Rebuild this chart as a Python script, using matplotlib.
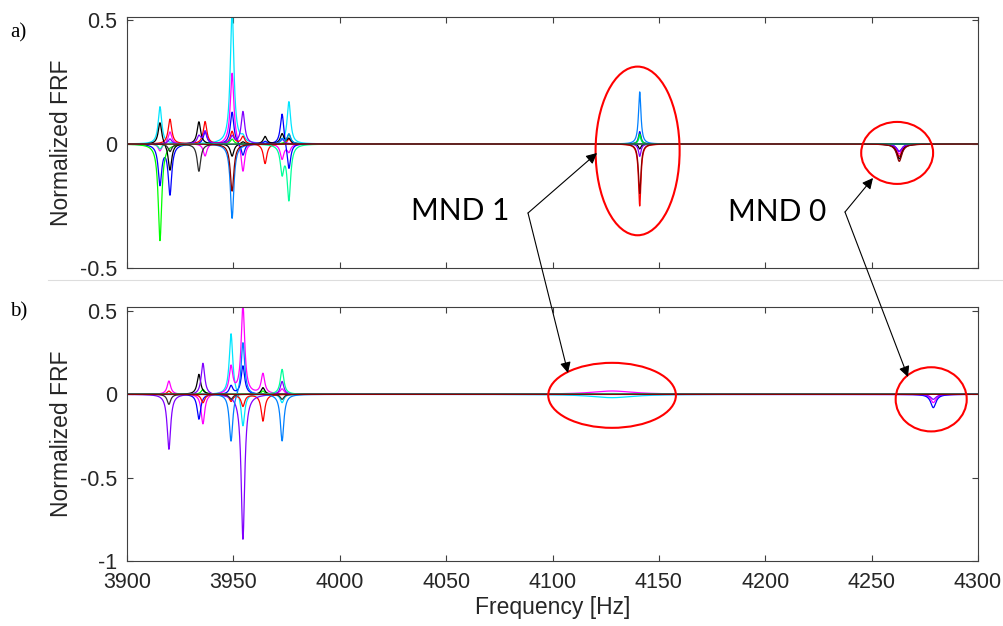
import numpy as np
import matplotlib.pyplot as plt
from matplotlib.patches import Ellipse, FancyArrowPatch

# peak frequencies [Hz] and half widths [Hz]
top_freqs = [3915.5, 3920.2, 3933.8, 3936.7, 3949.4, 3954.5, 3964.9, 3972.9, 3976.1, 4141.0, 4263.0]
top_widths = [1.0, 1.0, 1.0, 1.0, 1.0, 1.0, 1.0, 1.0, 1.0, 0.7, 1.5]
bot_freqs = [3919.7, 3933.8, 3935.7, 3948.9, 3954.5, 3963.9, 3972.9, 4128.0, 4279.0]
bot_widths = [1.0, 1.0, 1.0, 1.0, 1.0, 1.0, 1.0, 12.0, 1.5]

line_colors = ["#00e5ff", "#ff00ff", "#0000ff", "#ff0000", "#00ff00",
               "#000000", "#8000ff", "#0080ff", "#00ff99", "#303030", "#8b0000"]

# normalized peak amplitude of each line at each peak (rows follow line_colors)
top_amps = [
    [0.15, 0.00, 0.00, 0.00, 0.55, 0.02, 0.00, 0.00, 0.17, 0.03, 0.00],
    [-0.03, 0.05, 0.00, -0.05, 0.29, -0.12, 0.00, -0.06, -0.03, 0.00, -0.04],
    [-0.16, -0.20, 0.00, 0.05, 0.13, -0.05, 0.01, 0.13, -0.11, 0.05, -0.03],
    [0.00, 0.10, 0.00, 0.09, 0.05, 0.03, -0.08, 0.00, 0.02, -0.25, -0.05],
    [-0.39, 0.00, 0.00, 0.00, 0.02, 0.00, 0.00, 0.00, 0.04, 0.04, 0.00],
    [0.09, -0.11, 0.09, 0.00, -0.05, 0.01, 0.03, 0.04, 0.02, -0.02, -0.06],
    [0.00, 0.02, 0.03, 0.05, 0.03, 0.13, 0.00, 0.02, 0.00, -0.05, -0.03],
    [0.00, 0.00, 0.00, 0.00, -0.30, 0.00, 0.00, 0.02, 0.04, 0.21, 0.00],
    [-0.02, 0.00, 0.00, 0.00, 0.00, 0.00, 0.00, -0.11, -0.22, 0.00, 0.00],
    [0.00, -0.03, -0.11, 0.00, 0.00, 0.00, 0.00, 0.00, 0.00, 0.00, 0.00],
    [0.00, 0.00, 0.00, 0.00, -0.19, 0.00, 0.00, 0.00, 0.00, -0.20, -0.07],
]

bot_amps = [
    [0.00, 0.00, 0.00, 0.37, -0.20, 0.00, -0.05, -0.02, 0.00],
    [0.08, 0.00, -0.18, 0.16, 0.53, 0.12, 0.03, 0.02, -0.05],
    [0.00, -0.15, 0.00, 0.05, 0.17, 0.00, 0.00, 0.00, -0.08],
    [0.02, 0.00, -0.05, -0.04, -0.07, -0.16, 0.00, 0.00, 0.00],
    [0.00, 0.00, 0.03, 0.00, 0.00, 0.02, 0.00, 0.00, 0.00],
    [0.00, 0.12, 0.00, 0.00, 0.00, 0.04, 0.00, 0.00, 0.00],
    [-0.33, 0.00, 0.19, 0.00, -0.87, 0.00, 0.08, 0.00, -0.03],
    [0.00, 0.00, 0.00, -0.29, 0.32, 0.00, -0.28, 0.00, 0.00],
    [0.00, 0.00, 0.00, 0.00, 0.00, 0.00, 0.15, 0.005, 0.00],
    [-0.06, 0.00, 0.00, -0.03, 0.00, 0.00, -0.03, 0.00, 0.00],
    [0.00, 0.00, 0.00, 0.00, 0.00, 0.00, 0.00, 0.00, 0.00],
]

x_ticks = [3900, 3950, 4000, 4050, 4100, 4150, 4200, 4250, 4300]

freq = np.linspace(3900, 4300, 8001)


def frf_line(freqs, widths, amps):
    y = np.zeros_like(freq)
    for f0, g, a in zip(freqs, widths, amps):
        y += a / (1.0 + ((freq - f0) / g) ** 2)
    return y


W, H = 1004, 626


def fig_xy(px, py):
    return (px / W, 1 - py / H)


plt.rcParams["font.family"] = ["Liberation Sans", "DejaVu Sans"]
fig = plt.figure(figsize=(W / 100, H / 100), dpi=100)

ax1 = fig.add_axes([127 / W, 1 - 268 / H, 851 / W, 251 / H])
ax2 = fig.add_axes([127 / W, 1 - 561 / H, 851 / W, 254 / H])

for amps, c in zip(top_amps, line_colors):
    ax1.plot(freq, frf_line(top_freqs, top_widths, amps), color=c, lw=0.9)
for amps, c in zip(bot_amps, line_colors):
    ax2.plot(freq, frf_line(bot_freqs, bot_widths, amps), color=c, lw=0.9)

ax1.set_ylim(-0.5, 0.512)
ax1.set_yticks([-0.5, 0, 0.5])
ax1.set_yticklabels(["-0.5", "0", "0.5"])
ax2.set_ylim(-1, 0.524)
ax2.set_yticks([-1, -0.5, 0, 0.5])
ax2.set_yticklabels(["-1", "-0.5", "0", "0.5"])

for ax in (ax1, ax2):
    ax.set_xlim(3900, 4300)
    ax.set_xticks(x_ticks)
    ax.tick_params(direction="in", top=True, right=True, length=4,
                   width=0.8, color="#404040", labelsize=15.5, labelcolor="#262626")
    ax.tick_params(axis="y", pad=7)
    ax.tick_params(axis="x", pad=8)
    for s in ax.spines.values():
        s.set_color("#404040")
        s.set_linewidth(0.8)
    ax.set_ylabel("Normalized FRF", fontsize=16.5, color="#262626", labelpad=5)

ax1.tick_params(labelbottom=False)
ax2.set_xticklabels([str(t) for t in x_ticks])
ax2.set_xlabel("Frequency [Hz]", fontsize=16.5, color="#262626", labelpad=2)

# red ellipses around the MND peaks
ell = dict(fill=False, edgecolor="#ff0000", lw=1.5, zorder=5, clip_on=False)
ax1.add_patch(Ellipse((4140, -0.028), 39.5, 0.68, **ell))
ax1.add_patch(Ellipse((4262, -0.036), 33.8, 0.25, **ell))
ax2.add_patch(Ellipse((4128, -0.006), 60, 0.39, **ell))
ax2.add_patch(Ellipse((4278, -0.03), 33.4, 0.385, **ell))

# panel labels
fig.text(*fig_xy(10, 33), "a)", family="Liberation Serif", fontsize=15, va="center")
fig.text(*fig_xy(10, 312), "b)", family="Liberation Serif", fontsize=15, va="center")

# separator between the two panels
fig.add_artist(plt.Line2D([48 / W, 1], [1 - 280 / H, 1 - 280 / H], color="#dddddd", lw=0.8))

# MND labels with arrows
fig.text(*fig_xy(460, 211), "MND 1", family=["Lato", "DejaVu Sans"], fontsize=21.5,
         ha="center", va="center")
fig.text(*fig_xy(777, 212), "MND 0", family=["Lato", "DejaVu Sans"], fontsize=21.5,
         ha="center", va="center")

for start, end in [((528, 213), (597, 153)), ((528, 213), (568, 373)),
                   ((845, 212), (873, 178)), ((845, 212), (908, 377))]:
    fig.add_artist(FancyArrowPatch(fig_xy(*start), fig_xy(*end), transform=fig.transFigure,
                                   arrowstyle="-|>", color="black", lw=0.8,
                                   mutation_scale=16, shrinkA=0, shrinkB=0, zorder=10))

fig.savefig("out.png", dpi=100)
